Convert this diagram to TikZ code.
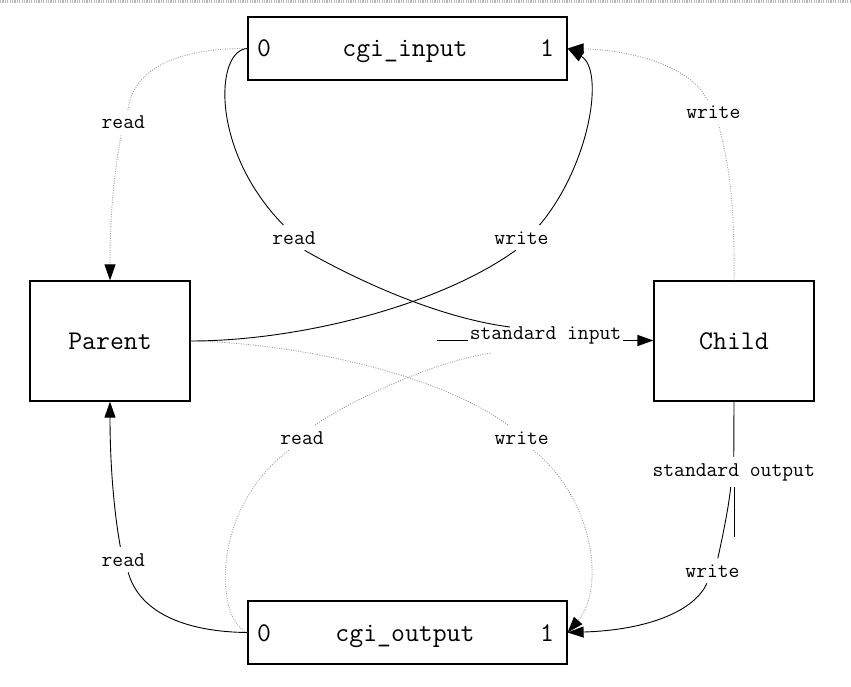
\documentclass[tikz,border=0pt]{standalone}
\usepackage{fontspec}
\usetikzlibrary{arrows.meta,calc}
\begin{document}
\begin{tikzpicture}[x=1pt,y=-1pt,
  box/.style={draw=black, line width=1.2pt, inner sep=0pt, font=\fontsize{27}{30}\selectfont\ttfamily},
  ntext/.style={font=\fontsize{27}{30}\selectfont\ttfamily, inner sep=0pt, anchor=base},
  lab/.style={font=\fontsize{21}{24}\selectfont\ttfamily, inner xsep=2pt, inner ysep=6pt, anchor=base},
  solidedge/.style={line width=0.9pt, black},
  dotedge/.style={line width=0.9pt, gray!80, dash pattern=on 0.9pt off 1.5pt},
  tip/.style={-{Triangle[length=16pt,width=11pt,color=black]}},
]
\useasboundingbox (0,0) rectangle (851,687);
\draw[gray!55, line width=2.5pt, dash pattern=on 1.2pt off 1.2pt] (0,1.5) -- (851,1.5);

% boxes
\node[box, minimum width=319pt, minimum height=63pt] (cin) at (407.5,48.5) {};
\node[ntext] (cin0) at (264,57) {0};
\node[ntext] (cint) at (405,57) {cgi\_input};
\node[ntext] (cin1) at (547,57) {1};

\node[box, minimum width=160pt, minimum height=120pt] (par) at (110,341) {Parent};
\node[box, minimum width=160pt, minimum height=120pt] (chd) at (734,341) {Child};

\node[box, minimum width=319pt, minimum height=63pt] (cout) at (407.5,632.5) {};
\node[ntext] (cout0) at (264,641) {0};
\node[ntext] (coutt) at (405,641) {cgi\_output};
\node[ntext] (cout1) at (547,641) {1};

% labels
\node[lab] (r1) at (123.3,129) {read};
\node[lab] (r2) at (294,244) {read};
\node[lab] (w1) at (521.5,244) {write};
\node[lab] (w2) at (713.3,119) {write};
\node[lab] (si) at (545.5,339) {standard input};
\node[lab] (r3) at (302,444) {read};
\node[lab] (w3) at (521.7,444) {write};
\node[lab] (so) at (733.7,476) {standard output};
\node[lab] (w4) at (712.5,577) {write};
\node[lab] (r4) at (123.3,566) {read};

% free ends
\coordinate (e2end) at (510,327);
\coordinate (e6end) at (492,353);
\coordinate (sistart) at (437,340.5);
\coordinate (soend) at (734,537);

% cgi_input:0 -> Parent (dotted)
\draw[dotedge] (cin.west) .. controls (175,48) and (133,70) .. (r1.70);
\draw[dotedge, tip] (r1.260) .. controls (113,180) and (110,220) .. (par.north);

% cgi_input:0 -> read -> standard input (solid)
\draw[solidedge] (cin.west) .. controls (215,50) and (210,150) .. (r2.130);
\draw[solidedge] (r2.-50) .. controls (360,282) and (440,318) .. (e2end);

% standard input -> Child
\draw[solidedge] (sistart) -- (si.west |- sistart);
\draw[line width=1.3pt, tip] (si.east |- sistart) -- (chd.west |- sistart);

% Parent -> write -> cgi_input:1 (solid)
\draw[solidedge] (par.east) .. controls (300,341) and (440,305) .. (w1.245);
\draw[solidedge, tip] (w1.35) .. controls (590,165) and (605,70) .. (cin.east);

% Child -> write -> cgi_input:1 (dotted)
\draw[dotedge] (chd.north) .. controls (735,200) and (728,160) .. (w2.293);
\draw[dotedge, tip] (w2.115) .. controls (690,65) and (630,50) .. (cin.east);

% Parent -> write -> cgi_output:1 (dotted)
\draw[dotedge] (par.east) .. controls (300,343) and (440,375) .. (w3.137);
\draw[dotedge, tip] (w3.-47) .. controls (595,500) and (605,590) .. (cout.east);

% cgi_output:0 -> read -> standard input (dotted)
\draw[dotedge] (cout.west) .. controls (215,620) and (210,510) .. (r3.224);
\draw[dotedge] (r3.44) .. controls (360,395) and (440,360) .. (e6end);

% cgi_output:0 -> read -> Parent (solid)
\draw[solidedge] (cout.west) .. controls (190,632) and (140,615) .. (r4.291);
\draw[solidedge, tip] (r4.103) .. controls (112,500) and (110,450) .. (par.south);

% Child -> standard output -> write -> cgi_output:1
\draw[solidedge] (chd.south) -- (so);
\draw[solidedge] (so.south -| chd.south) -- (soend);
\draw[solidedge] ([xshift=-3pt]so.south) .. controls (729,505) and (723,535) .. (w4.67);
\draw[solidedge, tip] (w4.246) .. controls (695,610) and (650,630) .. (cout.east);
\end{tikzpicture}
\end{document}
